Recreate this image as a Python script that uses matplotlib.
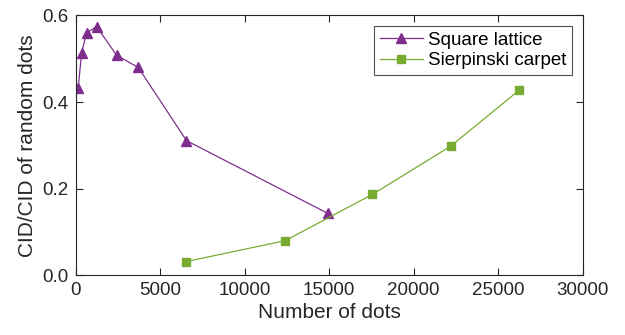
import matplotlib
matplotlib.use("Agg")
import matplotlib.pyplot as plt
from matplotlib.ticker import FormatStrFormatter

plt.rcParams['font.family'] = ['Liberation Sans', 'DejaVu Sans']

sq_x = [154, 355, 651, 1243, 2426, 3704, 6561, 14929]
sq_y = [0.433, 0.514, 0.560, 0.574, 0.508, 0.480, 0.311, 0.143]
sc_x = [6561, 12400, 17570, 22190, 26270]
sc_y = [0.032, 0.080, 0.187, 0.298, 0.428]
x_ticks = [0, 5000, 10000, 15000, 20000, 25000, 30000]
y_ticks = [0.0, 0.2, 0.4, 0.6]

fig = plt.figure(figsize=(6.25, 3.35), dpi=100)
ax = fig.add_axes([0.121, 0.178, 0.811, 0.776])

ax.plot(sq_x, sq_y, color='#7E2F8E', lw=0.9, marker='^', ms=7.5,
        mfc='#7E2F8E', mec='#7E2F8E', label='Square lattice')
ax.plot(sc_x, sc_y, color='#77AC30', lw=0.9, marker='s', ms=5.8,
        mfc='#77AC30', mec='#77AC30', label='Sierpinski carpet')

ax.set_xlim(0, 30000)
ax.set_ylim(0, 0.6)
ax.set_xticks(x_ticks)
ax.set_yticks(y_ticks)
ax.yaxis.set_major_formatter(FormatStrFormatter('%.1f'))
ax.tick_params(direction='in', top=True, right=True, length=5, width=0.8,
               colors='#262626', labelsize=13.5, pad=5)
for s in ax.spines.values():
    s.set_color('#262626')
    s.set_linewidth(0.8)

ax.set_xlabel('Number of dots', fontsize=15, color='#262626', labelpad=3)
ax.set_ylabel('CID/CID of random dots', fontsize=15, color='#262626', labelpad=4)

leg = ax.legend(loc='upper right', bbox_to_anchor=(0.98, 0.96), fontsize=13.5,
                frameon=True, fancybox=False, edgecolor='#262626',
                handlelength=2.3, borderpad=0.3, labelspacing=0.2,
                handletextpad=0.3, borderaxespad=0)
leg.get_frame().set_linewidth(0.8)

fig.savefig('out.png', dpi=100)
